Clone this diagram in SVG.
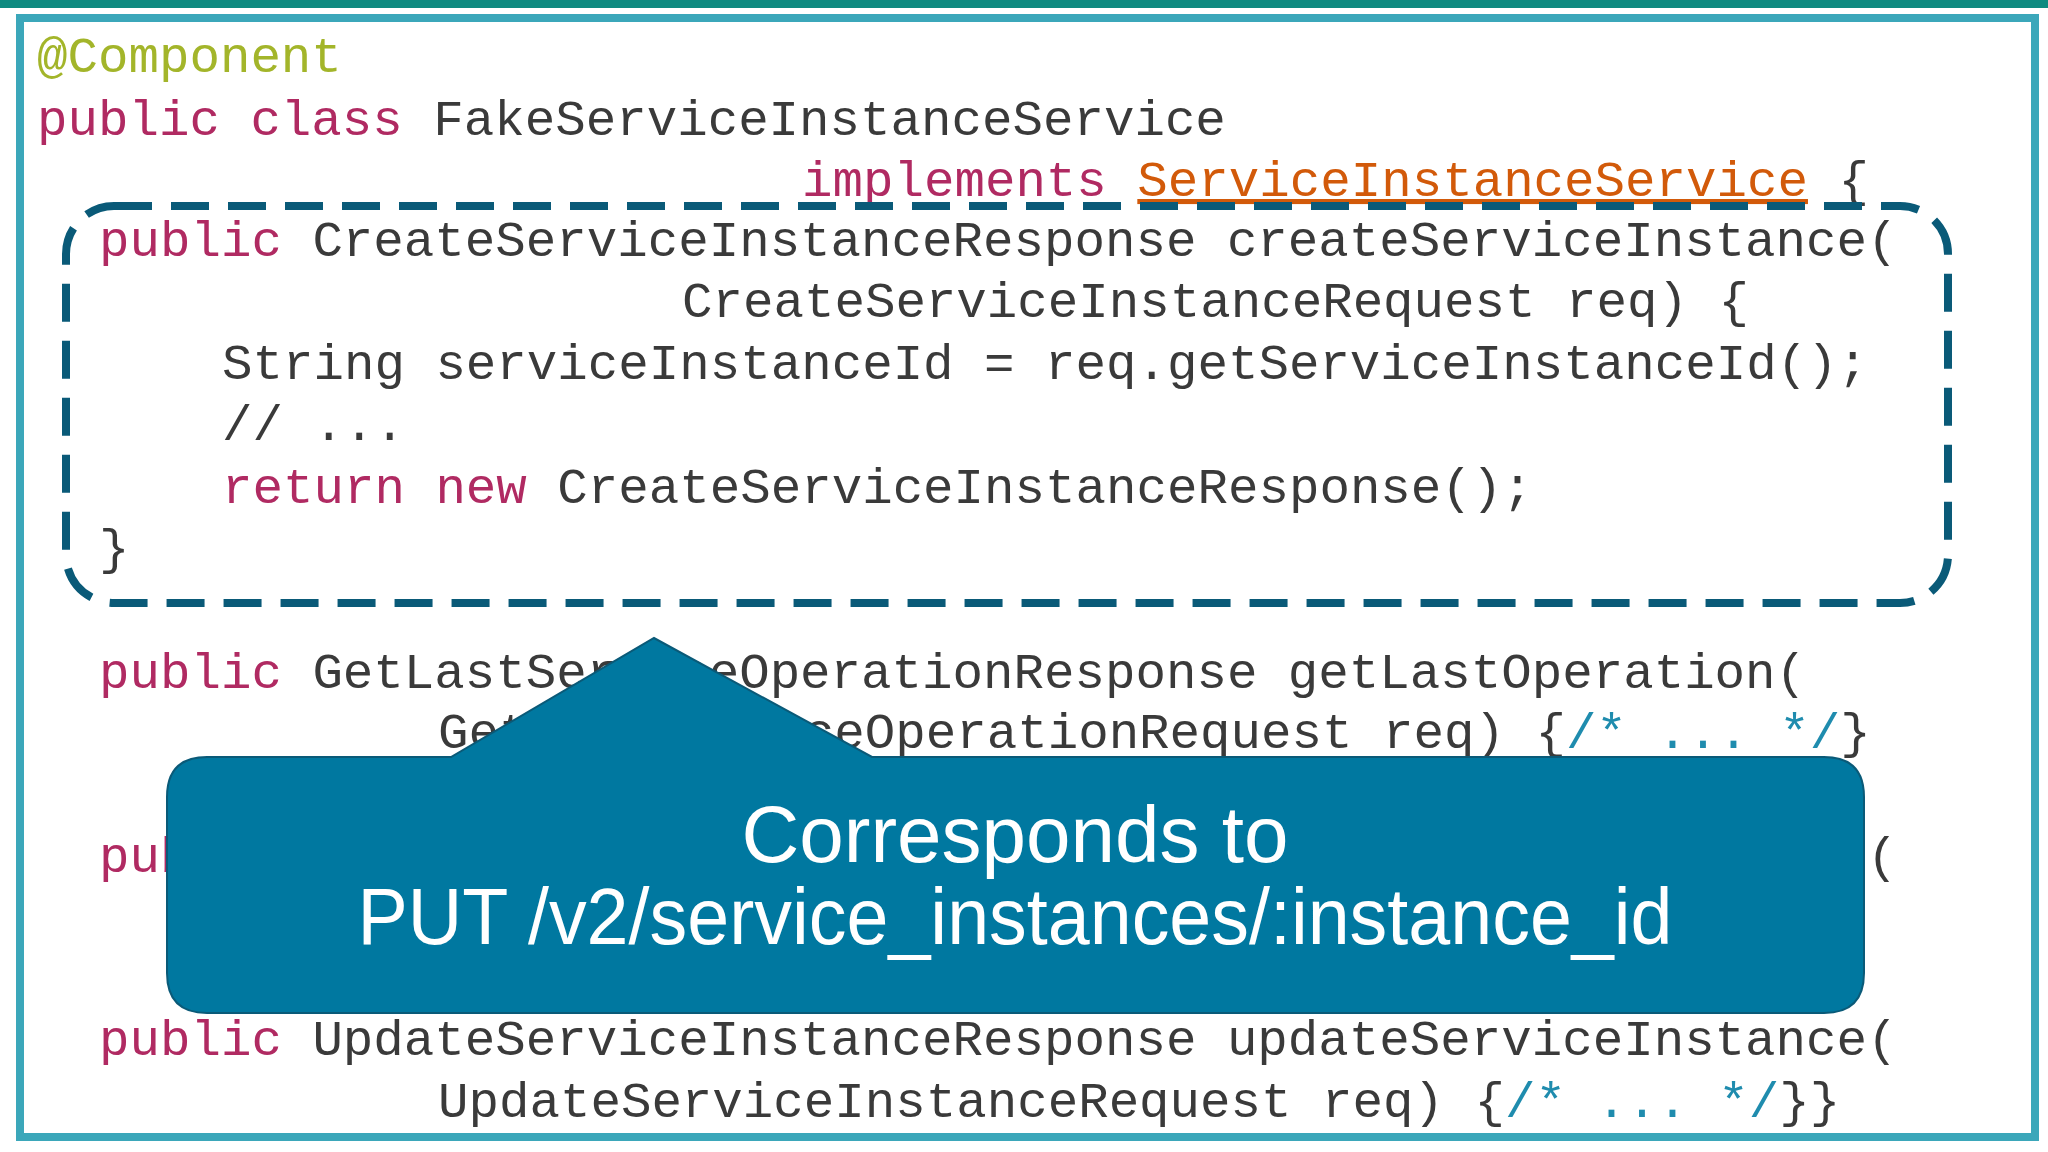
<svg xmlns="http://www.w3.org/2000/svg" width="2048" height="1152" viewBox="0 0 2048 1152">
<style>
.c{font-family:"Liberation Mono","DejaVu Sans Mono",monospace;font-size:50.8px;fill:#3a3a3a;white-space:pre}
.k{fill:#b02a62}
.a{fill:#a3b52a}
.t{fill:#d25a0a;text-decoration:underline}
.m{fill:#1f8cae}
.w{font-family:"Liberation Sans","Noto Sans",sans-serif;font-size:80px;fill:#fff;text-anchor:middle}
</style>
<rect width="2048" height="1152" fill="#fff"/>
<rect x="0" y="0" width="2048" height="8" fill="#0e8a80"/>
<rect x="20" y="18" width="2015" height="1119" fill="none" stroke="#3ba7ba" stroke-width="8"/>
<g id="code" xml:space="preserve">
<text class="c" x="37" y="72"><tspan class="a">@Component</tspan></text>
<text class="c" x="37" y="135"><tspan class="k">public class</tspan> FakeServiceInstanceService</text>
<text class="c" x="802" y="196"><tspan class="k">implements</tspan> <tspan class="t">ServiceInstanceService</tspan> {</text>
<text class="c" x="99" y="256"><tspan class="k">public</tspan> CreateServiceInstanceResponse createServiceInstance(</text>
<text class="c" x="682" y="317">CreateServiceInstanceRequest req) {</text>
<text class="c" x="222" y="379">String serviceInstanceId = req.getServiceInstanceId();</text>
<text class="c" x="222" y="440">// ...</text>
<text class="c" x="222" y="503"><tspan class="k">return new</tspan> CreateServiceInstanceResponse();</text>
<text class="c" x="99" y="564">}</text>
<text class="c" x="99" y="688"><tspan class="k">public</tspan> GetLastServiceOperationResponse getLastOperation(</text>
<text class="c" x="438" y="748">GetLastServiceOperationRequest req) {<tspan class="m">/* ... */</tspan>}</text>
<text class="c" x="99" y="872"><tspan class="k">public</tspan> DeleteServiceInstanceResponse deleteServiceInstance(</text>
<text class="c" x="99" y="1055"><tspan class="k">public</tspan> UpdateServiceInstanceResponse updateServiceInstance(</text>
<text class="c" x="438" y="1117">UpdateServiceInstanceRequest req) {<tspan class="m">/* ... */</tspan>}}</text>
</g>
<g id="highlight">
<rect x="66" y="206" width="1882" height="397" rx="48" fill="none" stroke="#0a5a78" stroke-width="8" stroke-dasharray="38 19"/>
</g>
<g id="callout">
<path d="M207 757 L451 757 L654 638 L872 757 L1824 757 Q1864 757 1864 797 L1864 973 Q1864 1013 1824 1013 L207 1013 Q167 1013 167 973 L167 797 Q167 757 207 757 Z" fill="#0078a0" stroke="#0a5a78" stroke-width="2"/>
<text class="w" x="1015" y="862">Corresponds to</text>
<text class="w" x="1015" y="944" textLength="1315" lengthAdjust="spacingAndGlyphs">PUT /v2/service_instances/:instance_id</text>
</g>
</svg>
